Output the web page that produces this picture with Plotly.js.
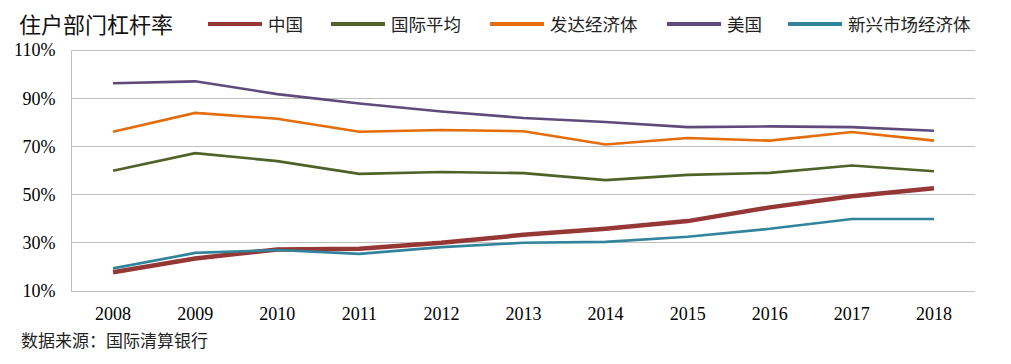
<!DOCTYPE html>
<html>
<head>
<meta charset="utf-8">
<script src="https://cdn.plot.ly/plotly-3.0.1.min.js"></script>
<style>html,body{margin:0;padding:0;background:#fff;}#chart{width:1011px;height:364px;}</style>
</head>
<body>
<div id="chart"></div>
<script>
const years = ['2008','2009','2010','2011','2012','2013','2014','2015','2016','2017','2018'];
const seriesNames = ['中国','国际平均','发达经济体','美国','新兴市场经济体'];
const china = [17.8, 23.5, 27.2, 27.5, 30.0, 33.3, 35.8, 39.0, 44.7, 49.3, 52.6];
const intlAvg = [59.9, 67.2, 63.9, 58.6, 59.4, 58.9, 56.0, 58.2, 59.0, 62.1, 59.7];
const developed = [76.1, 83.9, 81.5, 76.1, 76.8, 76.3, 70.8, 73.5, 72.4, 76.0, 72.4];
const usa = [96.2, 97.0, 91.7, 87.8, 84.5, 81.8, 80.1, 78.0, 78.3, 78.0, 76.5];
const emerging = [19.4, 25.8, 27.0, 25.4, 28.2, 30.0, 30.4, 32.5, 35.8, 39.9, 39.9];
const titleText = '住户部门杠杆率';
const sourceText = '数据来源：国际清算银行';

const values = [china, intlAvg, developed, usa, emerging];
const colors = ['#953735', '#4f6228', '#e46c0a', '#604a7b', '#31849b'];
const widths = [4.5, 2.6, 2.6, 2.6, 2.6];

const traces = values.map((v, i) => ({
  type: 'scatter', mode: 'lines', x: years, y: v, name: seriesNames[i],
  line: {color: colors[i], width: widths[i]}, showlegend: false
}));

const cjk = '"Noto Sans CJK SC", "Noto Sans", sans-serif';
const serif = '"Liberation Serif", "DejaVu Serif", serif';

// plot area geometry (pixels)
const PL = 72, PR = 975, PT = 50, PB = 291;
const W = 1011, H = 364;
const px2x = p => (p - PL) / (PR - PL);
const py2y = p => (PB - p) / (PB - PT);

// legend drawn as shapes + annotations (line sample 54px, text after it)
const legendStarts = [208, 331, 490, 667, 788];
const legendY = 24;
const shapes = [], annotations = [];
seriesNames.forEach((n, i) => {
  shapes.push({type: 'line', xref: 'paper', yref: 'paper',
    x0: px2x(legendStarts[i]), x1: px2x(legendStarts[i] + 54), y0: py2y(legendY), y1: py2y(legendY),
    line: {color: colors[i], width: 4}});
  annotations.push({text: n, xref: 'paper', yref: 'paper', x: px2x(legendStarts[i] + 58), y: py2y(legendY),
    xanchor: 'left', yanchor: 'middle', showarrow: false, font: {family: cjk, size: 17.5, color: '#222'}});
});
annotations.push({text: sourceText, xref: 'paper', yref: 'paper', x: px2x(19), y: py2y(339),
  xanchor: 'left', yanchor: 'middle', showarrow: false, font: {family: cjk, size: 17, color: '#222'}});

// top (110%) gridline, placed on a pixel centre so it renders crisply
shapes.push({type: 'line', xref: 'paper', yref: 'paper', x0: 0, x1: 1, y0: py2y(PT + 0.5), y1: py2y(PT + 0.5), layer: 'above',
  line: {color: '#bfbfbf', width: 1}});

const layout = {
  width: W, height: H,
  margin: {l: PL, r: W - PR, t: PT, b: H - PB},
  paper_bgcolor: '#ffffff', plot_bgcolor: '#ffffff',
  title: {text: titleText, x: 19/W, xanchor: 'left', xref: 'container', y: 1 - 25/H, yanchor: 'middle', yref: 'container',
          font: {family: cjk, size: 22, color: '#111'}},
  showlegend: false,
  xaxis: {type: 'category', range: [-0.5, 10.5], showgrid: false, zeroline: false,
          showline: true, linecolor: '#bfbfbf', linewidth: 1, ticks: '',
          tickfont: {family: serif, size: 18, color: '#000'}, ticklabelstandoff: 6, fixedrange: true},
  yaxis: {range: [10, 110], dtick: 20, tick0: 10, ticksuffix: '%', showgrid: true, gridcolor: '#bfbfbf', gridwidth: 1,
          zeroline: false, showline: true, linecolor: '#bfbfbf', linewidth: 1, ticks: '',
          tickfont: {family: serif, size: 18, color: '#000'}, ticklabelstandoff: 12, fixedrange: true},
  shapes: shapes,
  annotations: annotations
};

Plotly.newPlot('chart', traces, layout, {displayModeBar: false, staticPlot: true});
</script>
</body>
</html>
